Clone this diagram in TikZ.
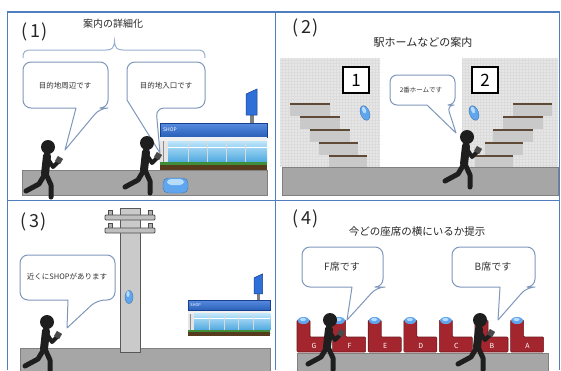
\documentclass[tikz,border=0pt]{standalone}
\usepackage{fontspec}
\setmainfont{Noto Sans CJK JP}
\definecolor{panelblue}{HTML}{4F7FBF}
\definecolor{bubbleedge}{HTML}{7F97BA}
\definecolor{braceblue}{HTML}{9AB0D0}
\definecolor{groundgray}{HTML}{A6A6A6}
\definecolor{groundedge}{HTML}{808080}
\definecolor{ink}{HTML}{1E1E1E}
\definecolor{phonegray}{HTML}{4A4A4A}
\definecolor{beaconblue}{HTML}{5FA6EE}
\definecolor{beaconlight}{HTML}{B8DCFF}
\definecolor{shopblue}{HTML}{2E6FD8}
\definecolor{shopdark}{HTML}{163F8F}
\definecolor{glasstop}{HTML}{BDE6FA}
\definecolor{glassbottom}{HTML}{4FA8E0}
\definecolor{planter}{HTML}{5A3A1C}
\definecolor{leaf}{HTML}{3E8E3A}
\definecolor{wallgray}{HTML}{E6E6E6}
\definecolor{wallgrid}{HTML}{DCDCDC}
\definecolor{stepgray}{HTML}{C9C9C9}
\definecolor{treadbrown}{HTML}{5E4A36}
\definecolor{seatred}{HTML}{A3262E}
\definecolor{seatedge}{HTML}{6E1A1F}
\definecolor{polegray}{HTML}{CACACA}
\begin{document}
\begin{tikzpicture}[x=1pt,y=-1pt,
  panelrule/.style={draw=panelblue, line width=1.3},
  bubble/.style={draw=bubbleedge, fill=white, line width=1, line join=round},
  bubbletext/.style={font=\fontsize{7.5}{8}\selectfont, text=black!80, inner sep=0pt},
  seattext/.style={font=\fontsize{10}{11}\selectfont, text=black!80, inner sep=0pt},
  captiontext/.style={font=\fontsize{10.5}{12}\selectfont, text=black!85, inner sep=0pt},
  numlabel/.style={font=\fontsize{18}{20}\selectfont, text=black!85, inner sep=0pt},
  ground/.style={fill=groundgray, draw=groundedge, line width=0.8},
  beacon/.style={fill=beaconblue, draw=beaconblue!70!black, line width=0.4},
  stepblock/.style={fill=stepgray},
  tread/.style={draw=treadbrown, line width=2.2},
  signbox/.style={draw=black, fill=white, line width=1.3, minimum width=26pt, minimum height=26pt,
    font=\fontsize{17}{18}\selectfont, inner sep=0pt},
  seatlabel/.style={font=\fontsize{7}{8}\selectfont, text=white, inner sep=0pt},
  shoptext/.style={font=\fontsize{5}{6}\selectfont, text=white, inner sep=0pt},
  walker/.pic={
    \fill[ink] (0,0) circle (7);
    \draw[ink, line width=8, line cap=round] (-1,9) -- (-3,27);
    \draw[ink, line width=5, line cap=round, line join=round] (-3,27) -- (-9,37) -- (-22,44);
    \draw[ink, line width=5, line cap=round, line join=round] (-2,27) -- (3,38) -- (3,50);
    \draw[ink, line width=4, line cap=round, line join=round] (0,12) -- (5,20) -- (10,15);
    \fill[phonegray, rotate around={-30:(11,13)}] (8,10) rectangle (14,16);
  },
  seat/.pic={
    \draw[fill=seatred, draw=seatedge, line width=0.6, rounded corners=1]
      (0,32) -- (0,0) -- (13,0) -- (13,17) -- (33,17) -- (33,32) -- cycle;
    \fill[beaconblue] (6.5,0.5) ellipse (6 and 3.5);
    \fill[beaconlight] (6,-0.5) ellipse (3 and 1.6);
    \node[seatlabel] (-label) at (17,25.5) {#1};
  },
  shop/.pic={
    % sign on its pole
    \fill[black!50] (90,-9) rectangle (94,0);
    \draw[fill=shopblue, draw=shopdark, line width=0.5] (86,-29) -- (97,-34) -- (97,-8) -- (86,-8) -- cycle;
    % roof band
    \shade[top color=shopblue!80!white, bottom color=shopblue!85!black] (0,0) rectangle (107,14);
    \draw[shopdark, line width=0.6] (0,0) rectangle (107,14);
    \node[shoptext, anchor=west] (-name) at (3,7) {SHOP};
    \fill[black!6] (0,14) rectangle (107,18);
    % pillar and glass front
    \fill[black!10] (0,18) rectangle (8,39);
    \draw[black!45, line width=0.4] (3,18) -- (3,39);
    \shade[top color=glasstop, bottom color=glassbottom] (8,18) rectangle (107,39);
    \draw[white, line width=1] (8,24) -- (107,24);
    \foreach \wx in {28,47,66,85} \draw[white!85!black, line width=1] (\wx,18) -- (\wx,39);
    % planter
    \fill[planter] (0,39) rectangle (107,47);
    \fill[leaf] (0,39) rectangle (107,41.5);
    \foreach \wx in {6,16,...,106} \fill[leaf!60!black] (\wx,43.5) circle (0.9);
  }]
\useasboundingbox (0,0) rectangle (561,370);
\fill[white] (0,0) rectangle (561,370);

% ---------------- (1) guidance in detail ----------------
\node[numlabel] (n1) at (35,32) {(\kern2pt1\kern2pt)};
\node[captiontext, font=\fontsize{10}{11}\selectfont] (t1) at (113,24) {案内の詳細化};
\draw[braceblue, line width=1]
  (23,58) .. controls (23,51) and (25,50) .. (32,50) -- (106,50)
  .. controls (112,50) and (114,48) .. (114.5,41)
  .. controls (115,48) and (117,50) .. (123,50) -- (196,50)
  .. controls (203,50) and (205,51) .. (205,58);
\draw[ground] (22,170) rectangle (267,195);
\pic (shopA) at (160,123) {shop};
% beacon case on the ground
\draw[beacon, rounded corners=5] (163,178) rectangle (188,193);
\fill[beaconlight, rounded corners=4] (167,179) rectangle (184,185);
\draw[bubble] (65,150) -- (76,108) [rounded corners=8] -- (23,108) -- (23,62) -- (108,62) -- (108,108) -- (100,108) [sharp corners] -- cycle;
\node[bubbletext] (b1) at (65,86) {目的地周辺です};
\draw[bubble] (160,153) -- (127,100) [rounded corners=8] -- (127,62) -- (205,62) -- (205,108) -- (156,108) [sharp corners] -- cycle;
\node[bubbletext] (b2) at (166,86) {目的地入口です};
\pic (walkerA) at (48,147) {walker};
\pic (walkerB) at (147,143) {walker};

% ---------------- (2) station platform guidance ----------------
\node[numlabel] (n2) at (306,28) {(\kern2pt2\kern2pt)};
\node[captiontext, font=\fontsize{11}{12}\selectfont] (t2) at (423,42) {駅ホームなどの案内};
\fill[wallgray] (280,58) rectangle (380,167);
\fill[wallgray] (462,58) rectangle (558,167);
\begin{scope}
  \clip (280,58) rectangle (380,167);
  \draw[wallgrid, line width=0.25, xstep=3pt, ystep=3pt] (279,57) grid (381,168);
\end{scope}
\begin{scope}
  \clip (462,58) rectangle (558,167);
  \draw[wallgrid, line width=0.25, xstep=3pt, ystep=3pt] (461,57) grid (559,168);
\end{scope}
% left staircase
\foreach \xa/\xb/\sy in {290/330/104, 300/340/117, 310/350/130, 319/358/143, 329/367/156} {
  \fill[stepblock] (\xa,\sy) rectangle (\xb,\sy+12);
  \draw[tread] (\xa,\sy) -- (\xb,\sy);
}
% right staircase
\foreach \xa/\xb/\sy in {513/552/104, 503/543/117, 493/533/130, 485/523/143, 475/513/156} {
  \fill[stepblock] (\xa,\sy) rectangle (\xb,\sy+12);
  \draw[tread] (\xa,\sy) -- (\xb,\sy);
}
\node[signbox] (sign1) at (356,80) {1};
\node[signbox] (sign2) at (485,80) {2};
\draw[beacon, rotate around={20:(365,113)}] (365,113) ellipse (4.5 and 7.5);
\fill[beaconlight, rotate around={20:(364,110)}] (364,110) ellipse (1.8 and 3.5);
\draw[beacon, rotate around={20:(474,113)}] (474,113) ellipse (4.5 and 7.5);
\fill[beaconlight, rotate around={20:(473,110)}] (473,110) ellipse (1.8 and 3.5);
\draw[ground] (282,167) rectangle (558,195);
\draw[bubble] (456,133) -- (427,105) [rounded corners=7] -- (390,105) -- (390,75) -- (455,75) -- (455,105) -- (447,105) [sharp corners] -- cycle;
\node[bubbletext, font=\fontsize{6.5}{7}\selectfont] (b3) at (421,90) {2番ホームです};
\pic (walkerC) at (467,137) {walker};

% ---------------- (3) nearby shop ----------------
\node[numlabel] (n3) at (34,222) {(\kern2pt3\kern2pt)};
\draw[ground] (20,348) rectangle (270,372);
% utility pole
\draw[fill=polegray, draw=black!65, line width=0.8] (120,208) rectangle (140,352);
\foreach \ay in {215,228} {
  \draw[fill=black!30, draw=black!70, line width=0.6] (108,\ay-5) rectangle (112,\ay);
  \draw[fill=black!30, draw=black!70, line width=0.6] (148,\ay-5) rectangle (152,\ay);
  \draw[fill=black!25, draw=black!70, line width=0.8, rounded corners=1] (105,\ay) rectangle (155,\ay+5);
}
\draw[beacon] (129,297) ellipse (4 and 6.5);
\fill[beaconlight] (128,294) ellipse (1.6 and 3);
\pic[scale=0.77, transform shape] (shopB) at (188,300) {shop};
\draw[bubble] (67,328) -- (68,300) [rounded corners=8] -- (20,300) -- (20,255) -- (115,255) -- (115,300) -- (97,300) [sharp corners] -- cycle;
\node[bubbletext] (b4) at (67,277) {近くにSHOPがあります};
\pic (walkerD) at (47,322) {walker};

% ---------------- (4) seat position ----------------
\node[numlabel] (n4) at (306,219) {(\kern2pt4\kern2pt)};
\node[captiontext] (t4) at (417,232) {今どの座席の横にいるか提示};
\draw[ground] (297,353) rectangle (548,372);
\foreach \sx/\sl [count=\si] in {297/G, 332.6/F, 368.2/E, 403.8/D, 439.4/C, 475/B, 510.6/A}
  \pic (seat\si) at (\sx,320) {seat=\sl};
\draw[bubble] (347,320) -- (352,287) [rounded corners=8] -- (302,287) -- (302,247) -- (383,247) -- (383,287) -- (377,287) [sharp corners] -- cycle;
\node[seattext] (b5) at (342,267) {F席です};
\draw[bubble] (498,320) -- (500,287) [rounded corners=8] -- (452,287) -- (452,247) -- (535,247) -- (535,287) -- (527,287) [sharp corners] -- cycle;
\node[seattext] (b6) at (493,267) {B席です};
\pic (walkerE) at (330,320) {walker};
\pic (walkerF) at (480,320) {walker};

% ---------------- panel rules ----------------
\draw[panelrule] (7.5,370) -- (7.5,12) -- (559.5,12) -- (559.5,370);
\draw[panelrule] (275.5,12) -- (275.5,370);
\draw[panelrule] (7.5,200.5) -- (559.5,200.5);
\end{tikzpicture}
\end{document}
